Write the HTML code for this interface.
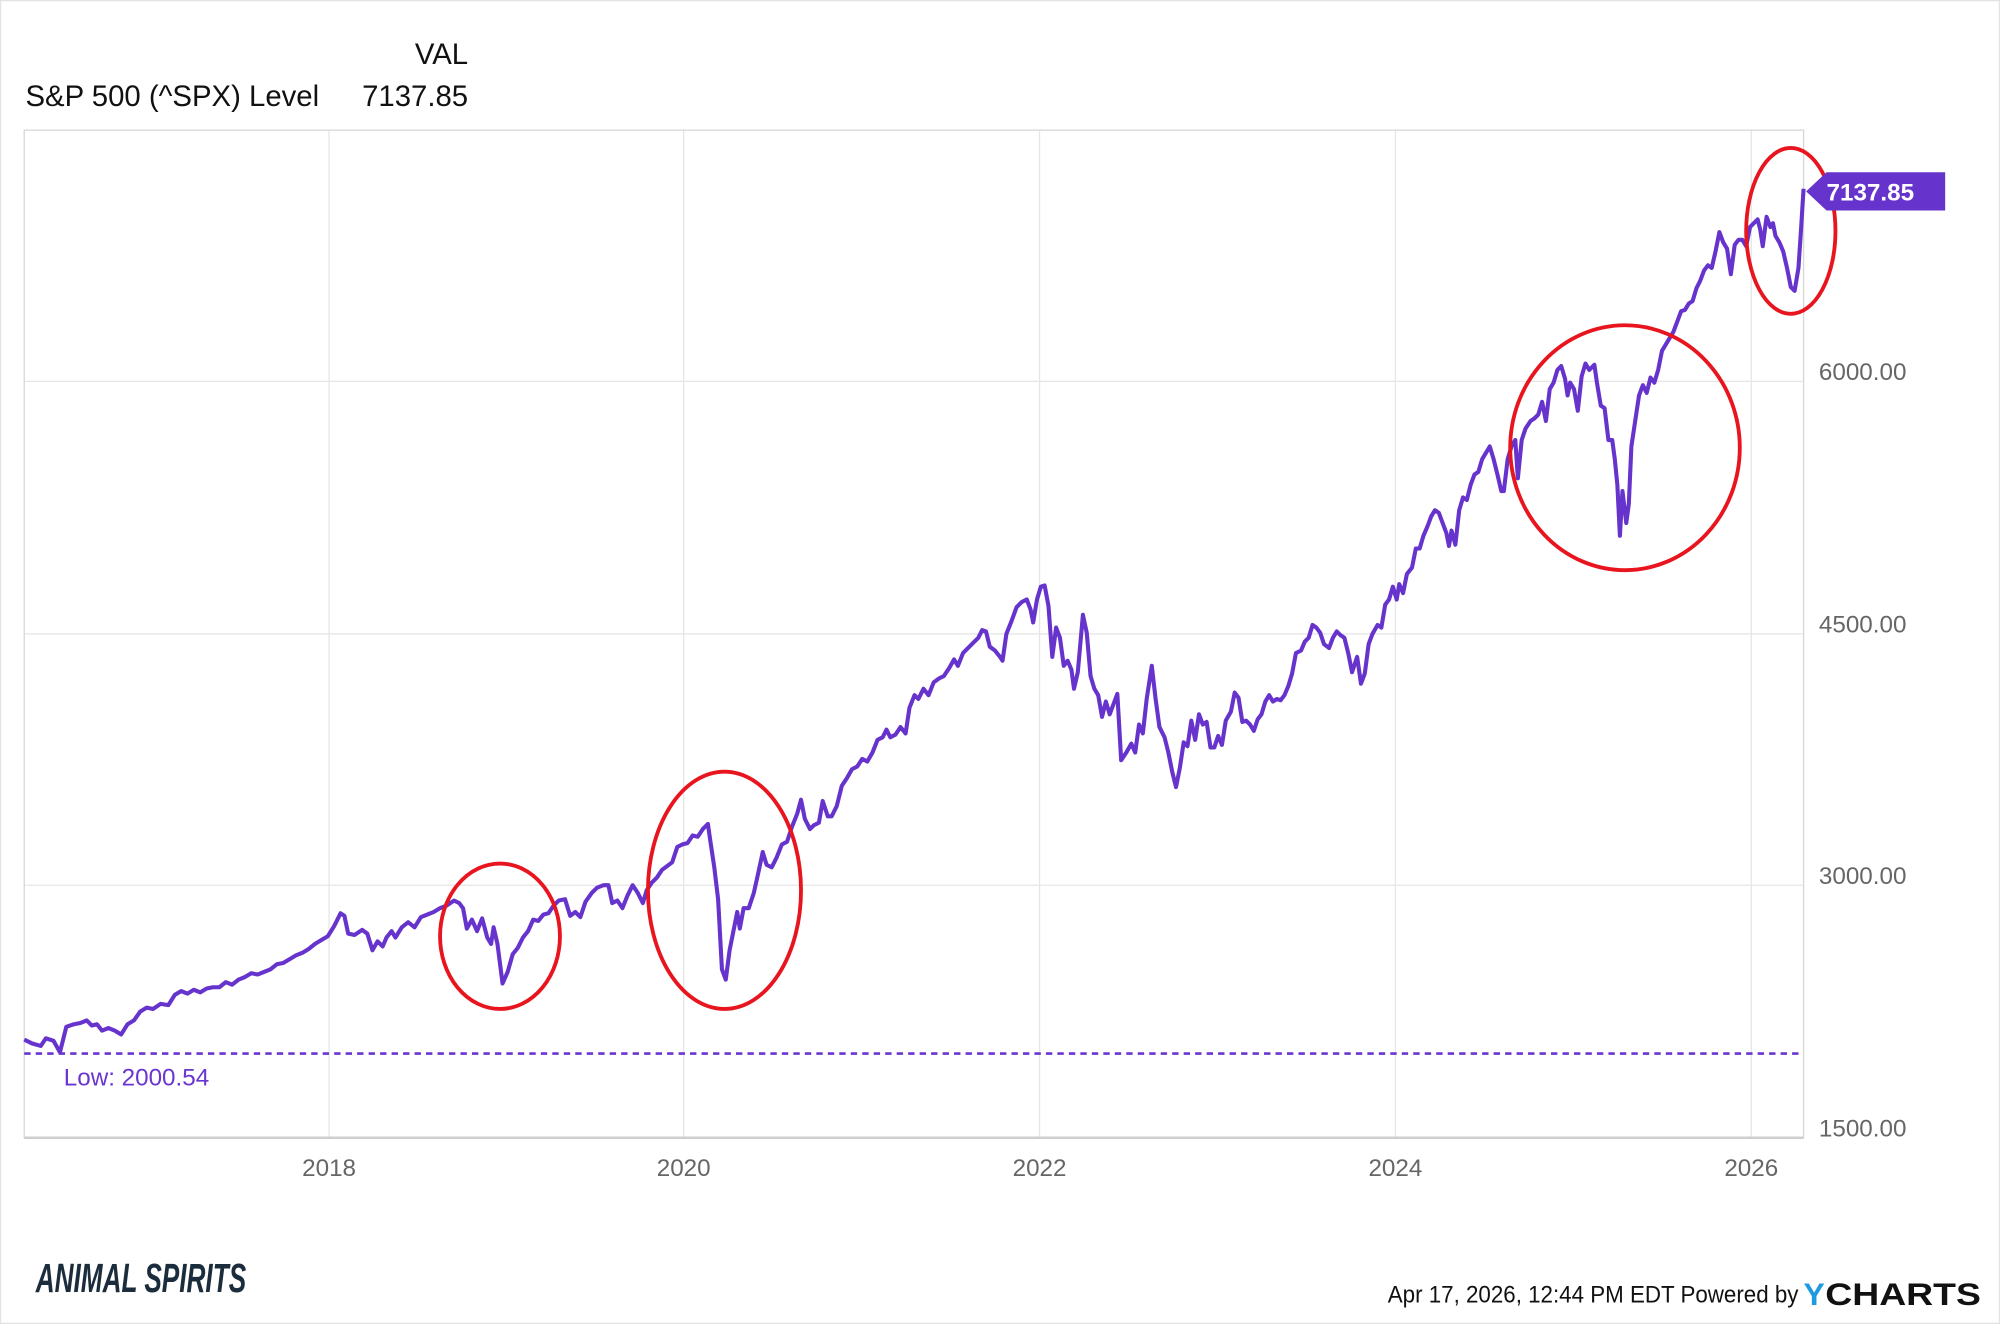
<!DOCTYPE html>
<html><head><meta charset="utf-8"><style>
html,body{margin:0;padding:0;background:#fff;width:2000px;height:1324px;overflow:hidden}
svg{display:block}
</style></head><body>
<svg width="2000" height="1324" viewBox="0 0 1568 1038" xmlns="http://www.w3.org/2000/svg" font-family="'Liberation Sans', sans-serif">
<rect x="0" y="0" width="1568" height="1038" fill="#fff"/>
<rect x="0.5" y="0.5" width="1567" height="1037" fill="none" stroke="#e4e4e4"/>
<text x="367" y="50" text-anchor="end" font-size="23" fill="#111">VAL</text>
<text x="20" y="83" font-size="23" fill="#111">S&amp;P 500 (^SPX) Level</text>
<text x="367" y="83" text-anchor="end" font-size="23" fill="#111">7137.85</text>
<g stroke="#e6e6e6" stroke-width="1">
<line x1="258" y1="102" x2="258" y2="892"/><line x1="536" y1="102" x2="536" y2="892"/>
<line x1="815" y1="102" x2="815" y2="892"/><line x1="1094" y1="102" x2="1094" y2="892"/>
<line x1="1373" y1="102" x2="1373" y2="892"/>
<line x1="19" y1="299" x2="1414" y2="299"/><line x1="19" y1="497" x2="1414" y2="497"/>
<line x1="19" y1="694" x2="1414" y2="694"/>
</g>
<rect x="19" y="102" width="1395" height="790" fill="none" stroke="#d6d6d6"/>
<line x1="19" y1="892" x2="1414" y2="892" stroke="#cfcfcf" stroke-width="2"/>
<g font-size="19" fill="#666">
<text x="1426" y="298">6000.00</text><text x="1426" y="496">4500.00</text>
<text x="1426" y="693">3000.00</text><text x="1426" y="891">1500.00</text>
</g>
<g font-size="19" fill="#666" text-anchor="middle">
<text x="258" y="922">2018</text><text x="536" y="922">2020</text><text x="815" y="922">2022</text>
<text x="1094" y="922">2024</text><text x="1373" y="922">2026</text>
</g>
<line x1="19" y1="826" x2="1414" y2="826" stroke="#6a35d0" stroke-width="2" stroke-dasharray="5,4"/>
<text x="50" y="851" font-size="19" fill="#6a35d0">Low: 2000.54</text>
<polyline fill="none" stroke="#6633cc" stroke-width="3.2" stroke-linejoin="round" points="19,815 25,818 32,820 36,814 42,816 47,825 52,805 58,803 63,802 68,800 72,804 76,803 80,808 85,806 90,808 95,811 100,803 105,800 110,793 115,790 120,791 126,787 132,788 137,780 142,777 147,779 152,776 157,778 162,775 167,774 172,774 177,770 182,772 187,768 192,766 197,763 202,764 207,762 212,760 217,756 222,755 227,752 232,749 237,747 242,744 247,740 252,737 257,734 262,726 267,716 270,718 273,732 278,733 284,729 288,732 292,745 296,738 300,742 303,735 307,730 310,735 315,727 320,723 325,727 330,719 335,717 340,715 345,712 350,710 356,706 360,708 363,712 366,728 370,721 374,730 378,720 382,735 385,740 387,727 390,740 394,771 398,762 402,748 406,743 410,735 414,730 418,721 422,722 426,717 430,716 434,710 438,706 443,705 447,718 451,715 455,719 459,707 464,700 468,696 473,694 477,694 480,708 484,706 488,712 492,702 496,694 500,700 504,708 507,698 511,692 515,688 519,682 523,679 527,676 531,664 535,662 539,661 543,655 547,656 551,650 555,646 557,660 560,680 563,705 566,760 569,768 572,745 575,730 578,715 580,728 583,712 587,712 591,700 595,682 598,668 601,678 605,680 609,672 613,662 617,660 621,648 625,638 628,627 631,642 635,650 638,647 642,645 645,628 649,640 652,640 656,632 660,616 664,610 668,603 672,601 676,595 680,597 684,590 688,580 692,578 695,572 698,578 702,576 706,570 710,575 713,555 717,545 720,548 724,540 728,545 732,535 736,532 740,530 744,524 748,517 751,522 755,512 759,508 763,504 767,500 770,494 773,495 776,507 780,510 784,515 786,518 789,497 793,487 797,476 801,472 805,470 808,478 810,488 813,470 816,460 819,459 822,475 825,515 828,492 831,500 834,522 837,518 840,525 842,540 845,527 849,482 852,496 855,530 858,540 861,545 864,562 867,550 870,560 873,552 876,544 879,596 883,590 887,583 890,590 893,568 896,575 899,548 903,522 906,548 909,570 913,578 916,590 919,605 922,617 925,602 928,582 931,585 934,565 937,580 940,560 943,568 946,566 949,586 952,586 955,577 958,584 961,565 965,558 968,543 971,547 974,566 977,565 980,568 983,573 986,564 989,560 992,550 995,545 998,550 1001,548 1004,549 1007,545 1010,538 1013,528 1016,512 1020,510 1023,503 1026,500 1029,490 1032,492 1035,496 1038,505 1042,508 1045,500 1048,495 1051,498 1054,500 1057,512 1060,527 1064,515 1067,536 1070,528 1073,505 1076,497 1080,490 1083,492 1086,474 1089,470 1092,460 1095,470 1097,458 1100,465 1103,450 1107,445 1110,430 1113,430 1116,420 1119,413 1122,405 1125,400 1128,402 1131,410 1134,418 1136,428 1138,416 1141,427 1144,400 1147,390 1150,392 1153,380 1156,372 1159,370 1162,360 1165,355 1168,350 1171,360 1174,372 1177,385 1179,385 1182,360 1185,350 1188,345 1190,375 1193,345 1196,336 1200,330 1203,328 1206,325 1209,315 1212,330 1215,305 1218,300 1221,290 1224,287 1227,297 1229,310 1231,300 1234,305 1237,322 1240,295 1243,285 1246,290 1248,288 1250,286 1252,300 1255,318 1258,320 1261,345 1264,345 1266,360 1268,380 1270,420 1272,385 1275,410 1277,395 1279,350 1282,330 1285,310 1288,302 1291,308 1294,296 1297,300 1300,290 1303,275 1306,270 1309,265 1312,260 1315,252 1318,244 1321,243 1324,238 1327,236 1330,226 1333,220 1336,212 1339,208 1342,210 1345,197 1348,182 1351,190 1354,195 1357,215 1360,192 1363,188 1366,188 1369,193 1372,178 1375,175 1378,172 1380,180 1382,193 1385,170 1388,178 1390,175 1392,185 1395,190 1398,197 1401,210 1404,225 1407,228 1410,210 1412,180 1414,148"/>
<g fill="none" stroke="#e8141e" stroke-width="3">
<ellipse cx="392" cy="734" rx="47" ry="57"/>
<ellipse cx="568" cy="698" rx="60" ry="93"/>
<ellipse cx="1274" cy="351" rx="90" ry="96"/>
<ellipse cx="1404" cy="181" rx="35" ry="65"/>
</g>
<polygon points="1416,150 1432,135 1525,135 1525,165 1432,165" fill="#6633cc"/>
<text x="1432" y="157" font-size="19" font-weight="bold" fill="#fff">7137.85</text>
<text x="28" y="1013" font-size="32" font-weight="bold" font-style="italic" fill="#1b2d3c" textLength="165" lengthAdjust="spacingAndGlyphs">ANIMAL SPIRITS</text>
<text x="1088" y="1021" font-size="19" fill="#111" textLength="322" lengthAdjust="spacingAndGlyphs">Apr 17, 2026, 12:44 PM EDT Powered by</text>
<text x="1414" y="1023" font-size="25" font-weight="bold" fill="#1e9be0">Y</text>
<text x="1431" y="1023" font-size="25" font-weight="bold" fill="#111" textLength="122" lengthAdjust="spacingAndGlyphs">CHARTS</text>
</svg>
</body></html>
